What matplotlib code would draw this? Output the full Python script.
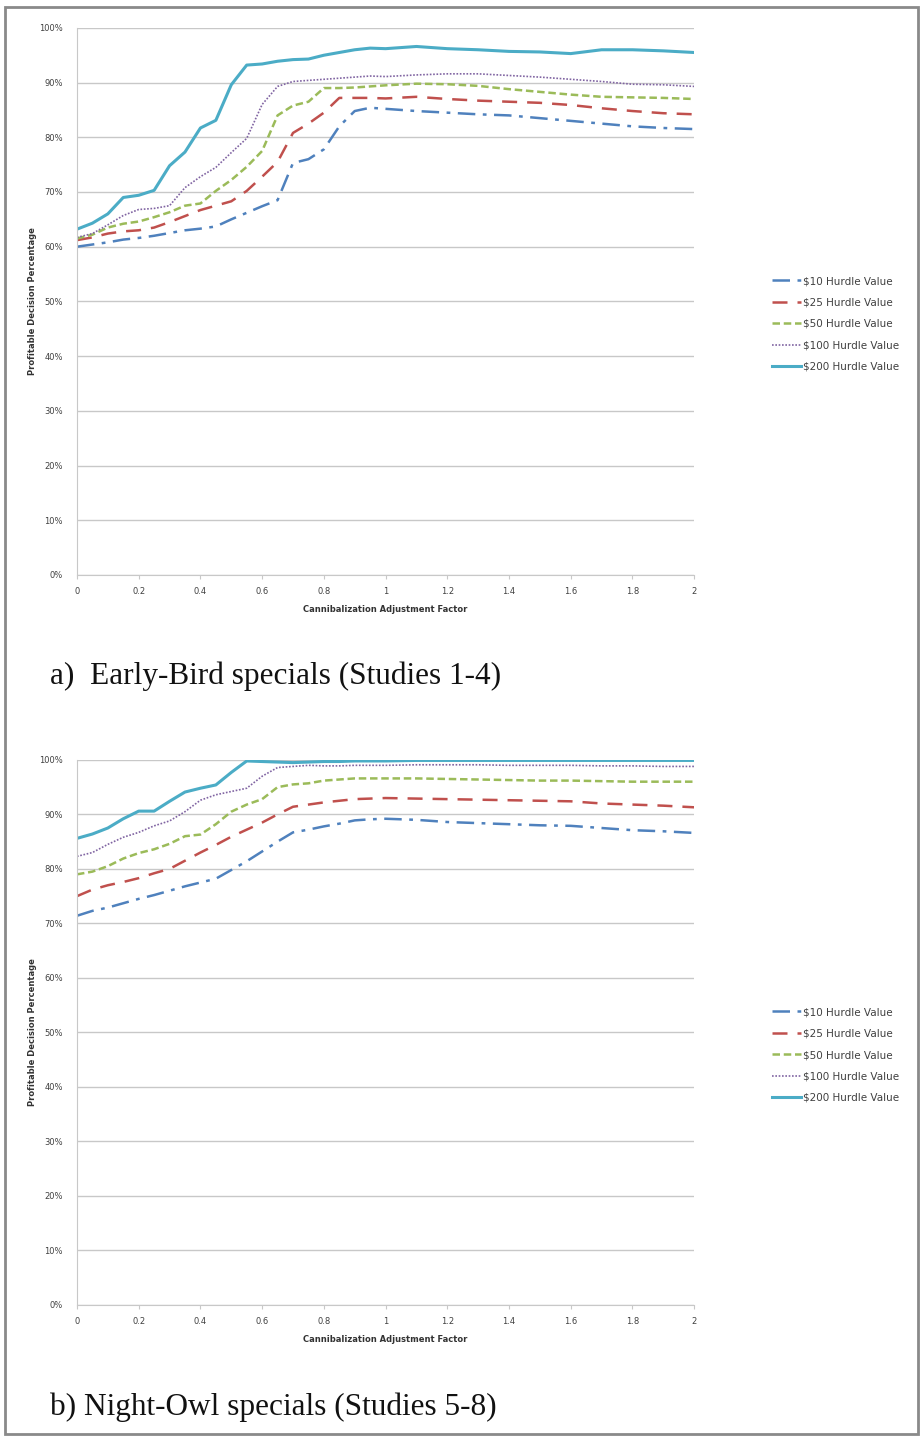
import matplotlib.pyplot as plt
import matplotlib.patches as patches
from matplotlib.ticker import PercentFormatter

# cannibalization adjustment factor (shared x grid)
x = [0, .05, .1, .15, .2, .25, .3, .35, .4, .45, .5, .55, .6, .65, .7, .75, .8, .85, .9, .95,
     1.0, 1.1, 1.2, 1.3, 1.4, 1.5, 1.6, 1.7, 1.8, 1.9, 2.0]

labels = ['$10 Hurdle Value', '$25 Hurdle Value', '$50 Hurdle Value',
          '$100 Hurdle Value', '$200 Hurdle Value']

# a) Early-Bird specials
early_10 = [60.0, 60.4, 60.8, 61.3, 61.6, 62.0, 62.5, 63.0, 63.3, 63.7, 65.0, 66.2, 67.4, 68.5, 75.3, 76.0,
            77.8, 82.0, 84.8, 85.4, 85.2, 84.8, 84.5, 84.2, 84.0, 83.5, 83.0, 82.5, 82.0, 81.7, 81.5]
early_25 = [61.2, 61.7, 62.4, 62.8, 63.0, 63.5, 64.5, 65.6, 66.7, 67.5, 68.3, 70.2, 72.8, 75.5, 80.8, 82.5,
            84.5, 87.2, 87.2, 87.2, 87.1, 87.4, 87.0, 86.7, 86.5, 86.3, 85.9, 85.3, 84.8, 84.4, 84.2]
early_50 = [61.5, 62.2, 63.5, 64.2, 64.6, 65.4, 66.3, 67.5, 67.9, 70.2, 72.2, 74.6, 77.5, 84.0, 85.8, 86.5,
            89.0, 89.0, 89.1, 89.3, 89.5, 89.8, 89.7, 89.4, 88.8, 88.3, 87.8, 87.4, 87.3, 87.2, 87.0]
early_100 = [61.7, 62.4, 64.0, 65.7, 66.8, 67.0, 67.5, 70.8, 72.8, 74.5, 77.2, 79.8, 86.0, 89.3, 90.2, 90.4,
             90.6, 90.8, 91.0, 91.2, 91.1, 91.4, 91.6, 91.6, 91.3, 91.0, 90.6, 90.2, 89.7, 89.6, 89.3]
early_200 = [63.2, 64.3, 66.0, 69.0, 69.4, 70.3, 74.8, 77.3, 81.7, 83.1, 89.6, 93.2, 93.4, 93.9, 94.2, 94.3,
             95.0, 95.5, 96.0, 96.3, 96.2, 96.6, 96.2, 96.0, 95.7, 95.6, 95.3, 96.0, 96.0, 95.8, 95.5]

# b) Night-Owl specials
night_10 = [71.4, 72.3, 72.9, 73.7, 74.5, 75.2, 76.0, 76.8, 77.5, 78.2, 79.8, 81.4, 83.2, 85.0, 86.7, 87.2,
            87.8, 88.3, 88.9, 89.1, 89.2, 89.0, 88.6, 88.4, 88.2, 88.0, 87.9, 87.5, 87.1, 86.9, 86.6]
night_25 = [75.0, 76.2, 77.0, 77.6, 78.3, 79.2, 80.0, 81.5, 83.0, 84.4, 85.9, 87.2, 88.5, 90.0, 91.4, 91.8,
            92.2, 92.5, 92.8, 92.9, 93.0, 92.9, 92.8, 92.7, 92.6, 92.5, 92.4, 92.0, 91.8, 91.6, 91.3]
night_50 = [79.0, 79.5, 80.5, 81.9, 82.9, 83.6, 84.6, 86.0, 86.3, 88.2, 90.5, 91.8, 92.8, 95.0, 95.5, 95.7,
            96.2, 96.4, 96.6, 96.6, 96.6, 96.6, 96.5, 96.4, 96.3, 96.2, 96.2, 96.1, 96.0, 96.0, 96.0]
night_100 = [82.3, 83.0, 84.5, 85.8, 86.7, 87.9, 88.8, 90.5, 92.6, 93.6, 94.2, 94.8, 97.0, 98.6, 98.8, 99.0,
             98.9, 98.9, 99.0, 99.0, 99.0, 99.1, 99.1, 99.1, 99.0, 99.0, 99.0, 98.9, 98.9, 98.8, 98.8]
night_200 = [85.6, 86.4, 87.5, 89.2, 90.6, 90.6, 92.4, 94.1, 94.8, 95.4, 97.7, 99.8, 99.7, 99.6, 99.5, 99.6,
             99.7, 99.7, 99.8, 99.8, 99.8, 99.9, 99.9, 99.9, 99.9, 99.9, 99.9, 99.9, 99.9, 99.9, 99.9]

colors = ['#4F81BD', '#C0504D', '#9BBB59', '#8064A2', '#4BACC6']
styles = [(0, (7, 3, 1.5, 3)), (0, (6, 4)), (0, (3, 1.5)), (0, (1, 1)), '-']
widths = [1.8, 1.8, 1.8, 1.2, 2.2]

fig = plt.figure(figsize=(9.24, 14.37), dpi=100)


def draw_panel(rect, series, caption, cap_y, leg_y):
    ax = fig.add_axes(rect)
    for vals, lab, c, ls, lw in zip(series, labels, colors, styles, widths):
        ax.plot(x, vals, color=c, linestyle=ls, linewidth=lw, label=lab)
    ax.set_xlim(0, 2)
    ax.set_ylim(0, 100)
    ax.set_xticks([0, 0.2, 0.4, 0.6, 0.8, 1, 1.2, 1.4, 1.6, 1.8, 2])
    ax.set_xticklabels(['0', '0.2', '0.4', '0.6', '0.8', '1', '1.2', '1.4', '1.6', '1.8', '2'])
    ax.set_yticks(range(0, 101, 10))
    ax.yaxis.set_major_formatter(PercentFormatter(decimals=0))
    ax.grid(axis='y', color='#C8C8C8', linewidth=1)
    ax.set_axisbelow(True)
    for s in ['top', 'right']:
        ax.spines[s].set_visible(False)
    ax.spines['left'].set_color('#C8C8C8')
    ax.spines['bottom'].set_color('#C8C8C8')
    ax.tick_params(axis='x', colors='#C8C8C8', labelcolor='#404040', labelsize=6, length=3, pad=6)
    ax.tick_params(axis='y', length=0, labelcolor='#404040', labelsize=6, pad=10)
    ax.set_xlabel('Cannibalization Adjustment Factor', fontsize=6, fontweight='bold', color='#333333', labelpad=6)
    ax.set_ylabel('Profitable Decision Percentage', fontsize=6, fontweight='bold', color='#333333', labelpad=2)
    ax.legend(loc='center left', bbox_to_anchor=(0.825, leg_y), bbox_transform=fig.transFigure,
              frameon=False, fontsize=7.5, handlelength=2.8, labelspacing=1.1, handletextpad=0.2,
              labelcolor='#404040')
    fig.text(0.054, cap_y, caption, fontsize=22.5, family='Liberation Serif', color='#111111', va='center')
    return ax


draw_panel([0.0833, 0.5999, 0.668, 0.3807],
           [early_10, early_25, early_50, early_100, early_200],
           'a)  Early-Bird specials (Studies 1-4)', 1 - 676 / 1437, 1 - 324 / 1437)
draw_panel([0.0833, 0.0919, 0.668, 0.3793],
           [night_10, night_25, night_50, night_100, night_200],
           'b) Night-Owl specials (Studies 5-8)', 1 - 1407 / 1437, 1 - 1055 / 1437)

fig.patches.append(patches.Rectangle((5 / 924, 3 / 1437), 913 / 924, 1427 / 1437, transform=fig.transFigure,
                                     fill=False, edgecolor='#8A8A8A', linewidth=2))

fig.savefig('out.png', dpi=100)
